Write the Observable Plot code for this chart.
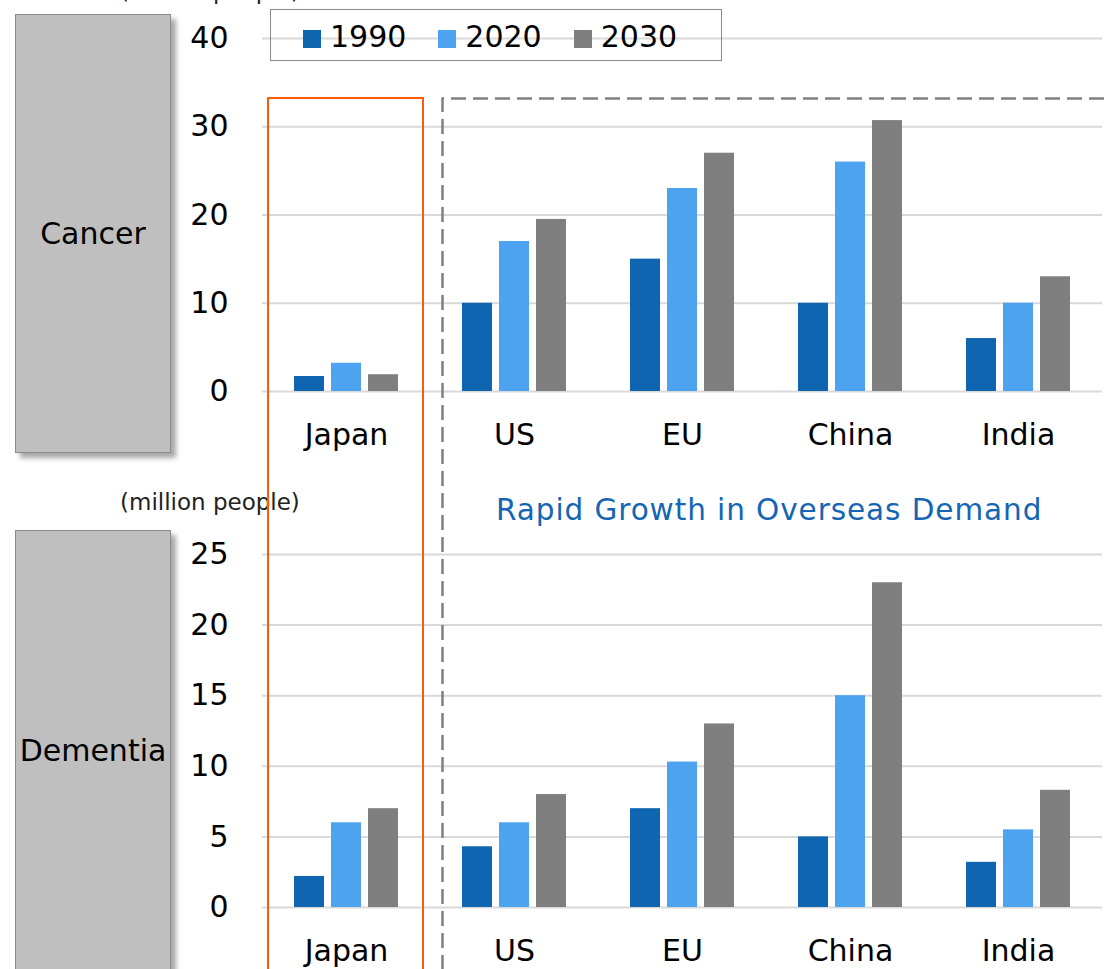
<!DOCTYPE html>
<html>
<head>
<meta charset="utf-8">
<script src="https://cdn.jsdelivr.net/npm/d3@7"></script>
<script src="https://cdn.jsdelivr.net/npm/@observablehq/plot@0.6"></script>
<style>
  html, body { margin: 0; padding: 0; background: #fff; }
  #wrap { position: relative; width: 1109px; height: 969px; overflow: hidden; font-family: "DejaVu Sans", Verdana, sans-serif; color: #000; }
  .abs { position: absolute; }
  .gbox { position: absolute; background: #bfbfbf; border: 1.5px solid #8a8a8a; box-shadow: 5px 5px 5px rgba(0,0,0,0.35); box-sizing: border-box; display: flex; align-items: center; justify-content: center; font-size: 30px; }
  .unit { position: absolute; font-size: 23px; color: #222; white-space: nowrap; }
  .sw { display: inline-block; width: 18px; height: 18px; margin-right: 9px; vertical-align: -1px; }
  .lg { display: inline-block; margin-right: 32px; }
</style>
</head>
<body>
<div id="wrap"></div>
<script>
const countries = ["Japan", "US", "EU", "China", "India"];
const years = ["1990", "2020", "2030"];
const yearColors = ["#1065b0", "#4da3f0", "#7f7f7f"];

// million people
const cancer1990 = [1.7, 10.0, 15.0, 10.0, 6.0];
const cancer2020 = [3.2, 17.0, 23.0, 26.0, 10.0];
const cancer2030 = [1.9, 19.5, 27.0, 30.7, 13.0];

const dementia1990 = [2.2, 4.3, 7.0, 5.0, 3.2];
const dementia2020 = [6.0, 6.0, 10.3, 15.0, 5.5];
const dementia2030 = [7.0, 8.0, 13.0, 23.0, 8.3];

const cancerTicks = [0, 10, 20, 30, 40];
const dementiaTicks = [0, 5, 10, 15, 20, 25];

function rows(a, b, c) {
  const series = [a, b, c];
  const out = [];
  countries.forEach((country, i) => {
    years.forEach((year, j) => out.push({country, year, value: series[j][i]}));
  });
  return out;
}

function panel(data, domain, ticks, opts) {
  return Plot.plot({
    width: 1109,
    height: opts.height,
    marginLeft: 262,
    marginRight: 7,
    marginTop: opts.marginTop,
    marginBottom: opts.marginBottom,
    style: {fontFamily: '"DejaVu Sans", Verdana, sans-serif', fontSize: "30px", color: "#000", background: "transparent", overflow: "visible"},
    fx: {domain: countries, padding: 0, label: null, axis: "bottom", tickSize: 0, tickPadding: 32},
    x: {domain: years, paddingInner: 0.2, paddingOuter: 0.84, axis: null},
    y: {domain, ticks, label: null, tickSize: 0, tickPadding: 34},
    color: {domain: years, range: yearColors},
    marks: [
      Plot.gridY(ticks, {stroke: "#d9d9d9", strokeOpacity: 1, strokeWidth: 2}),
      Plot.barY(data, {fx: "country", x: "year", y: "value", fill: "year"})
    ]
  });
}

const wrap = document.getElementById("wrap");

const cancerChart = panel(rows(cancer1990, cancer2020, cancer2030), [0, 40], cancerTicks,
  {height: 470, marginTop: 38, marginBottom: 79});
cancerChart.style.position = "absolute"; cancerChart.style.left = "0px"; cancerChart.style.top = "0px";
wrap.appendChild(cancerChart);

const dementiaChart = panel(rows(dementia1990, dementia2020, dementia2030), [0, 25], dementiaTicks,
  {height: 499, marginTop: 84, marginBottom: 62});
dementiaChart.style.position = "absolute"; dementiaChart.style.left = "0px"; dementiaChart.style.top = "470px";
wrap.appendChild(dementiaChart);

function add(html) {
  const d = document.createElement("div");
  d.innerHTML = html;
  while (d.firstChild) wrap.appendChild(d.firstChild);
}

// grey label boxes
add(`<div class="gbox" style="left:15px;top:14px;width:156px;height:439px;">Cancer</div>`);
add(`<div class="gbox" style="left:15px;top:530px;width:156px;height:440px;">Dementia</div>`);

// unit labels
add(`<div class="unit" style="left:120px;top:-22px;">(million people)</div>`);
add(`<div class="unit" style="left:120px;top:489px;">(million people)</div>`);

// Japan highlight and overseas dashed frame
add(`<div class="abs" style="left:267px;top:97px;width:157px;height:900px;border:2.5px solid #ff5a0a;box-sizing:border-box;"></div>`);
add(`<svg class="abs" style="left:0;top:0;" width="1109" height="969"><path d="M442.5,970 V98.5 H1115" fill="none" stroke="#808080" stroke-width="2.5" stroke-dasharray="15,7"/></svg>`);

// callout text
add(`<div class="abs" style="left:496px;top:493px;font-size:29.5px;letter-spacing:0.92px;color:#1565b5;white-space:nowrap;">Rapid Growth in Overseas Demand</div>`);

// legend
const legendItems = years.map((y, i) =>
  `<span class="lg"><span class="sw" style="background:${yearColors[i]}"></span>${y}</span>`).join("");
add(`<div class="abs" style="left:270px;top:9px;width:452px;height:52px;border:1.5px solid #8a8a8a;box-sizing:border-box;font-size:30px;line-height:50px;padding-left:32px;padding-top:2px;white-space:nowrap;">${legendItems}</div>`);
</script>
</body>
</html>
